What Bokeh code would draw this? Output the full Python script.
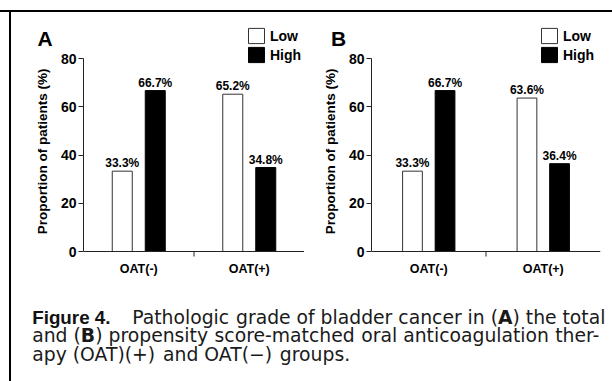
from bokeh.plotting import figure
from bokeh.models import (ColumnDataSource, FactorRange, Range1d, Span, Label,
                          FixedTicker, Div)
from bokeh.transform import dodge
from bokeh.layouts import row, column
from bokeh.core.properties import value
from bokeh.embed import file_html
from bokeh.resources import INLINE

# ---------------- data ----------------
categories = ["OAT(-)", "OAT(+)"]
series = ["Low", "High"]
panel_a_low = [33.3, 65.2]
panel_a_high = [66.7, 34.8]
panel_b_low = [33.3, 63.6]
panel_b_high = [66.7, 36.4]
y_ticks = [0, 20, 40, 60, 80]
y_axis_title = "Proportion of patients (%)"
panel_letters = ["A", "B"]

caption_label = "Figure 4."
caption_line1 = "Pathologic grade of bladder cancer in (**A**) the total"
caption_line2 = "and (**B**) propensity score-matched oral anticoagulation ther-"
caption_line3 = "apy (OAT)(+) and OAT(\u2212) groups."

# ---------------- layout constants ----------------
FONT = "Liberation Sans"
CAP_FONT = "DejaVu Sans"
FIG_H = 271
PX_PER_UNIT = 193 / 80.0
Y0_PX = 239          # pixel row (from figure top) of value 0
FRAME_TOP = 14       # legend top sits on the frame top
FRAME_BOTTOM = 245   # frame bottom pixel row
Y_START = -(FRAME_BOTTOM - Y0_PX) / PX_PER_UNIT
Y_END = Y_START + (FRAME_BOTTOM - FRAME_TOP) / PX_PER_UNIT
# the axis title is centred on the frame; pad its end so the visible words
# sit centred on the 0-80 axis as in the reference
TITLE_PAD = "\u00a0" * 5


def px_to_y(py):
    return Y_START + (FRAME_BOTTOM - py) / PX_PER_UNIT


def make_panel(letter, low, high, width, left, right, offset_px, bar_px,
               letter_px, legend_x):
    frame_w = width - left - right
    cat_px = frame_w / len(categories)
    off = offset_px / cat_px
    bw = bar_px / cat_px
    p = figure(width=width, height=FIG_H,
               x_range=FactorRange(*categories),
               y_range=Range1d(Y_START, Y_END),
               output_backend="svg", toolbar_location=None,
               min_border_left=left, min_border_right=right,
               min_border_top=FRAME_TOP,
               min_border_bottom=FIG_H - FRAME_BOTTOM)
    p.outline_line_color = None
    p.xgrid.visible = False
    p.ygrid.visible = False
    p.background_fill_color = "white"
    p.border_fill_color = "white"

    src = ColumnDataSource(dict(
        cat=categories, low=low, high=high,
        low_lbl=["%.1f%%" % v for v in low],
        high_lbl=["%.1f%%" % v for v in high]))

    p.vbar(x=dodge("cat", -off, range=p.x_range), top="low", width=bw,
           source=src, fill_color="white", line_color="#333333",
           line_width=1, legend_label=series[0])
    p.vbar(x=dodge("cat", off, range=p.x_range), top="high", width=bw,
           source=src, fill_color="black", line_color="black",
           line_width=1, legend_label=series[1])

    for col, o in (("low", -off), ("high", off)):
        p.text(x=dodge("cat", o, range=p.x_range), y=col, text=col + "_lbl",
               source=src, text_align="center", text_baseline="alphabetic",
               y_offset=-8, text_font=value(FONT), text_font_style="bold",
               text_font_size="12px", text_color="black")

    # baseline at y = 0 and a tick between the categories
    p.add_layout(Span(location=0, dimension="width", line_color="#222222",
                      line_width=1))
    bounds = list(range(1, len(categories)))
    p.segment(x0=bounds, y0=[0] * len(bounds), x1=bounds,
              y1=[-5 / PX_PER_UNIT] * len(bounds), line_color="#222222",
              line_width=1)

    # y axis
    ya = p.yaxis[0]
    ya.ticker = FixedTicker(ticks=y_ticks)
    ya.bounds = (min(y_ticks), max(y_ticks))
    ya.axis_label = y_axis_title + TITLE_PAD
    ya.axis_label_text_font = FONT
    ya.axis_label_text_font_size = "13.5px"
    ya.axis_label_text_font_style = "bold"
    ya.axis_label_text_color = "black"
    ya.axis_label_standoff = 8
    ya.major_label_text_font = FONT
    ya.major_label_text_font_size = "14px"
    ya.major_label_text_font_style = "bold"
    ya.major_label_text_color = "black"
    ya.major_label_standoff = 2
    ya.major_tick_out = 5
    ya.major_tick_in = 0
    ya.minor_tick_line_color = None
    ya.axis_line_color = "#222222"
    ya.major_tick_line_color = "#222222"

    xa = p.xaxis[0]
    xa.axis_line_color = None
    xa.major_tick_line_color = None
    xa.major_tick_out = 0
    xa.major_tick_in = 0
    xa.minor_tick_line_color = None
    xa.major_label_text_font = FONT
    xa.major_label_text_font_size = "12.5px"
    xa.major_label_text_font_style = "bold"
    xa.major_label_text_color = "black"
    xa.major_label_standoff = 4

    # panel letter (kept in the side panel so it is not clipped by the frame)
    lx = (letter_px - left) / cat_px
    p.add_layout(Label(x=lx, y=px_to_y(25.5), text=letter, text_font=FONT,
                       text_font_size="21px", text_font_style="bold",
                       text_color="black", text_baseline="middle"),
                 "left")

    lg = p.legend[0]
    lg.location = (legend_x, FRAME_BOTTOM - 52)
    lg.glyph_width = 20
    lg.glyph_height = 19
    lg.label_height = 19
    lg.spacing = 0
    lg.padding = 0
    lg.margin = 0
    lg.border_line_color = None
    lg.background_fill_alpha = 0
    lg.label_text_font = FONT
    lg.label_text_font_size = "14px"
    lg.label_text_font_style = "bold"
    lg.label_text_color = "black"
    lg.label_standoff = 4
    return p


# panel A: page x 11..304 (frame 83..304); panel B: page x 304..612 (frame 368..600)
pa = make_panel(panel_letters[0], panel_a_low, panel_a_high, 293, 72, 0,
                16.5, 20, 26, 163)
pb = make_panel(panel_letters[1], panel_b_low, panel_b_high, 308, 64, 12,
                16.5, 20, 23, 168)

# ---------------- caption ----------------
# advance widths (per 1000 em) of DejaVu Sans / DejaVu Sans Bold
REG = {' ': 318, '(': 390, ')': 390, '+': 838, '-': 361, '\u2212': 838,
       '.': 318, '4': 636, 'A': 684, 'B': 686, 'O': 787, 'T': 611, 'P': 603,
       'F': 575, 'a': 613, 'b': 635, 'c': 550, 'd': 635, 'e': 615, 'f': 352,
       'g': 635, 'h': 634, 'i': 278, 'l': 278, 'm': 974, 'n': 634, 'o': 612,
       'p': 635, 'r': 411, 's': 521, 't': 392, 'u': 634, 'y': 592}
BOLD = {' ': 348, 'A': 774, 'B': 762}
FS = 18.8


def tw(s, bold):
    t = BOLD if bold else REG
    return sum(t.get(c, 620) for c in s) / 1000.0 * FS


def parse_words(line):
    words = []
    for w in line.split(" "):
        parts = w.split("**")
        words.append([(t, i % 2 == 1) for i, t in enumerate(parts) if t])
    return words


cap_x, cap_y, cap_t, cap_s = [], [], [], []


def lay_line(line, x0, x1, y, justify):
    words = parse_words(line)
    widths = [sum(tw(t, b) for t, b in w) for w in words]
    if justify and len(words) > 1:
        gap = (x1 - x0 - sum(widths)) / (len(words) - 1)
    else:
        gap = tw(" ", False)
    x = x0
    for w, wd in zip(words, widths):
        xx = x
        for t, b in w:
            cap_x.append(xx)
            cap_y.append(y)
            cap_t.append(t)
            cap_s.append("bold" if b else "normal")
            xx += tw(t, b)
        x += wd + gap


CAP_W, CAP_H = 601, 98
LEFT = 20.7
BASE = [33.5, 52.0, 70.5]
lay_line(caption_line1, 120.7, 594.0, BASE[0], True)
lay_line(caption_line2, LEFT, 589.0, BASE[1], True)
lay_line(caption_line3, LEFT, 0, BASE[2], False)

cap = figure(width=CAP_W, height=CAP_H, x_range=Range1d(0, CAP_W),
             y_range=Range1d(CAP_H, 0), output_backend="svg",
             toolbar_location=None, min_border=0, x_axis_type=None,
             y_axis_type=None)
cap.outline_line_color = None
cap.grid.visible = False
cap.text(x=[LEFT], y=[BASE[0]], text=[caption_label], text_font=value(FONT),
         text_font_style="bold", text_font_size="%gpx" % FS,
         text_baseline="alphabetic", text_align="left", text_color="#111111")
csrc = ColumnDataSource(dict(x=cap_x, y=cap_y, t=cap_t, s=cap_s))
cap.text(x="x", y="y", text="t", source=csrc, text_font=value(CAP_FONT),
         text_font_style="s", text_font_size="%gpx" % FS,
         text_baseline="alphabetic", text_align="left", text_color="#1a1a1a")

# ---------------- borders ----------------
top_line = Div(text="", width=612, height=12, margin=0,
               styles={"background": "linear-gradient(to bottom, #ffffff 10px, #000000 10px)"})
left_line = Div(text="", width=11, height=FIG_H + CAP_H, margin=0,
                styles={"background": "linear-gradient(to right, #ffffff 9px, #000000 9px)"})

layout = column(top_line,
                row(left_line, column(row(pa, pb), cap)))

open("out.html", "w").write(file_html(layout, INLINE))
